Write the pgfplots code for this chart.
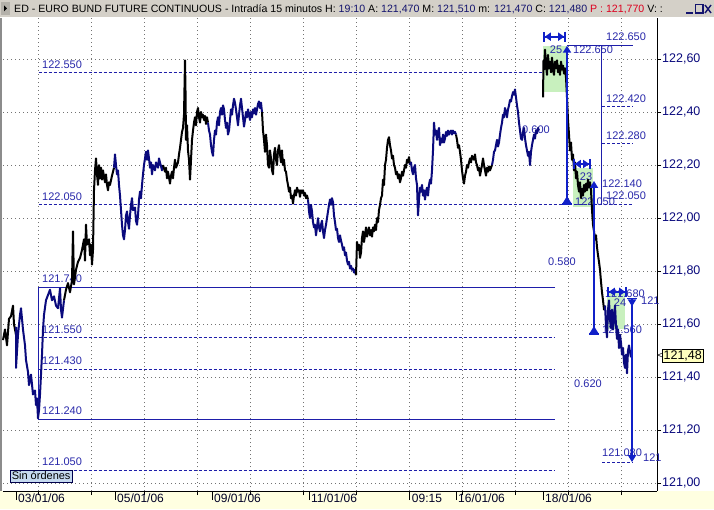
\documentclass[border=0pt]{standalone}
\usepackage{fontspec}
\setmainfont{Liberation Sans}
\usepackage{pgfplots}
\pgfplotsset{compat=1.18}
\usetikzlibrary{arrows.meta}

\definecolor{navyc}{RGB}{10,10,125}
\definecolor{lvl}{RGB}{30,30,170}
\definecolor{arr}{RGB}{16,32,200}
\definecolor{lbl}{RGB}{40,40,170}
\definecolor{grn}{RGB}{200,240,190}
\definecolor{paley}{RGB}{255,255,225}
\definecolor{barg}{RGB}{212,208,200}
\definecolor{boxb}{RGB}{198,218,240}
\definecolor{curr}{RGB}{255,255,190}
\definecolor{ttl}{RGB}{20,20,110}
\definecolor{redt}{RGB}{220,0,30}

\newcommand{\fs}[1]{\fontsize{#1}{#1}\selectfont}

\begin{document}
\begin{tikzpicture}
\useasboundingbox (0,0) rectangle (714pt,509pt);
\fill[white] (0,0) rectangle (714pt,509pt);
% bottom strip and left border
\fill[paley] (0,0) rectangle (714pt,18pt);
\fill[black!45] (0,18pt) rectangle (2pt,491pt);
% title bar
\fill[barg] (0,492pt) rectangle (714pt,509pt);
\fill[barg!85!black] (1pt,494pt) rectangle (10pt,507pt);
\fill[black] (4pt,497.5pt) -- (4pt,503.5pt) -- (7pt,500.5pt) -- cycle;
\node[anchor=west, inner sep=0pt, font=\fs{10.6}] at (14pt,500pt)
  {ED - EURO BUND FUTURE CONTINUOUS - Intrad\'{\i}a 15 minutos H: \textcolor{ttl}{19:10} A: \textcolor{ttl}{121,470} M: \textcolor{ttl}{121,510} m: \textcolor{ttl}{121,470} C: \textcolor{ttl}{121,480} \textcolor{redt}{P : 121,770} V: :};
\draw[line width=1.6pt, ttl] (686pt,496pt) -- (693pt,496pt);
\draw[line width=1.1pt, ttl] (695.5pt,496pt) rectangle (703pt,504.5pt);
\draw[line width=1.4pt, ttl] (705pt,496pt) -- (711pt,504pt) (705pt,504pt) -- (711pt,496pt);

\begin{axis}[
  at={(3pt,18pt)}, anchor=south west,
  scale only axis, width=654pt, height=473pt,
  xmin=3, xmax=657, ymin=120.971, ymax=122.7545,
  clip=false,
  axis x line*=bottom, axis y line*=right,
  axis line style={black,-, line width=0.8pt},
  tick align=outside,
  major tick length=4pt,
  tick style={black, line width=0.8pt},
  xtick={38.7,91.7,144.7,197.7,250.7,303.7,356.7,409.7,462.7,515.7,568.7,621.7},
  xticklabels={},
  extra x ticks={16,115,212,309,409.7,456,543},
  extra x tick labels={03/01/06,05/01/06,09/01/06,11/01/06,09:15,16/01/06,18/01/06},
  extra x tick style={grid=none, major tick length=9pt,
    xticklabel style={anchor=north west, inner sep=0pt, xshift=2pt, yshift=6pt, font=\fs{12}, text=black!85!blue}},
  ytick={121,121.2,121.4,121.6,121.8,122,122.2,122.4,122.6},
  yticklabels={{121,00},{121,20},{121,40},{121,60},{121,80},{122,00},{122,20},{122,40},{122,60}},
  yticklabel style={font=\fs{12.5}, text=navyc, inner sep=1pt},
  /pgf/number format/assume math mode=true,
  xmajorgrids, ymajorgrids,
  grid style={dash pattern=on 1pt off 3pt, black!55, line width=0.8pt},
]
% shaded consolidation boxes
\addplot[fill=grn, draw=none] coordinates {(543,122.475) (567,122.475) (567,122.65) (543,122.65)} -- cycle;
\addplot[fill=grn, draw=none] coordinates {(573,122.04) (593,122.04) (593,122.19) (573,122.19)} -- cycle;
\addplot[fill=grn, draw=none] coordinates {(607,121.58) (625,121.58) (625,121.72) (607,121.72)} -- cycle;

% level lines
\addplot[lvl, line width=0.9pt, dash pattern=on 3pt off 2pt] coordinates {(38.7,122.55) (543,122.55)};
\addplot[lvl, line width=0.9pt, dash pattern=on 3pt off 2pt] coordinates {(38.7,122.05) (633,122.05)};
\addplot[lvl, line width=0.9pt, dash pattern=on 3pt off 2pt] coordinates {(38.7,121.55) (555,121.55)};
\addplot[lvl, line width=0.9pt, dash pattern=on 3pt off 2pt] coordinates {(38.7,121.43) (555,121.43)};
\addplot[lvl, line width=0.9pt, dash pattern=on 3pt off 2pt] coordinates {(38.7,121.05) (555,121.05)};
\addplot[lvl, line width=1pt] coordinates {(555,121.74) (38.7,121.74) (38.7,121.24) (555,121.24)};
\addplot[lvl, line width=1pt] coordinates {(567,122.65) (633,122.65)};
\addplot[lvl, line width=1pt] coordinates {(601.7,122.65) (601.7,122.05)};
\addplot[lvl, line width=0.9pt, dash pattern=on 3pt off 2pt] coordinates {(602,122.42) (633,122.42)};
\addplot[lvl, line width=0.9pt, dash pattern=on 3pt off 2pt] coordinates {(602,122.28) (633,122.28)};
\addplot[lvl, line width=0.9pt, dash pattern=on 3pt off 2pt] coordinates {(602,121.08) (633,121.08)};

% level labels
\begin{scope}[every node/.style={inner sep=0pt, font=\fs{11}, text=lbl}]
\node[anchor=west] at (axis cs:42,122.577) {122.550};
\node[anchor=west] at (axis cs:42,122.08) {122.050};
\node[anchor=west] at (axis cs:42,121.77) {121.740};
\node[anchor=west] at (axis cs:42,121.581) {121.550};
\node[anchor=west] at (axis cs:42,121.461) {121.430};
\node[anchor=west] at (axis cs:42,121.273) {121.240};
\node[anchor=west] at (axis cs:42,121.08) {121.050};
\node[anchor=west] at (axis cs:606,122.683) {122.650};
\node at (axis cs:556,122.635) {25};
\node[anchor=west] at (axis cs:573,122.635) {122.650};
\node at (axis cs:536,122.332) {0.600};
\node[anchor=west] at (axis cs:606,122.452) {122.420};
\node[anchor=west] at (axis cs:606,122.309) {122.280};
\node at (axis cs:586,122.155) {23};
\node[anchor=west] at (axis cs:602,122.128) {122.140};
\node[anchor=west] at (axis cs:606,122.085) {122.050};
\node[anchor=west] at (axis cs:575,122.060) {122.050};
\node at (axis cs:562,121.834) {0.580};
\node[anchor=west] at (axis cs:602,121.581) {121.560};
\node at (axis cs:620,121.68) {24};
\node[anchor=east] at (axis cs:645,121.716) {121.680};
\node[anchor=west] at (axis cs:641,121.687) {121};
\node at (axis cs:588,121.375) {0.620};
\node[anchor=west] at (axis cs:602,121.115) {121.080};
\node[anchor=west] at (axis cs:643,121.096) {121};
\end{scope}

% price series, 15 minute bars
\addplot[black, line width=2pt, line join=round] coordinates {(3,121.54) (5,121.58) (7,121.52) (9,121.62) (11,121.63) (13,121.67) (14,121.60) (16,121.56)};
\addplot[navyc, line width=2pt, line join=round] coordinates {(16,121.59) (16,121.435) (18,121.56) (20,121.635) (21,121.66) (23,121.58) (25,121.52) (26,121.465) (28,121.42) (29,121.37) (31,121.41) (33,121.335) (35,121.35) (36,121.295) (37,121.32) (38,121.245) (39,121.275) (40,121.335) (41,121.41) (42,121.485) (43,121.58) (44,121.635) (46,121.69) (48,121.71) (50,121.73) (52,121.69) (54,121.705) (56,121.67) (58,121.66) (60,121.735) (61,121.655) (62,121.625) (64,121.69)};
\addplot[black, line width=2pt, line join=round] coordinates {(64,121.69) (66,121.73) (68,121.755) (70,121.72) (72,121.765) (73,121.95) (74,121.75) (76,121.805) (78,121.835) (80,121.85) (82,121.88) (84,121.92) (85,121.84) (86,121.975) (87,121.90) (89,121.92) (90,121.86) (91,121.90) (92,121.825) (93,121.88) (94,122.105) (95,122.18) (96,122.225) (97,122.165) (98,122.125) (99,122.20) (100,122.15) (101,122.19) (102,122.145) (103,122.18) (105,122.135) (106,122.165) (107,122.125) (108,122.105) (109,122.135) (110,122.125) (112,122.16) (114,122.19)};
\addplot[navyc, line width=2pt, line join=round] coordinates {(114,122.19) (115,122.24) (116,122.20) (117,122.165) (118,122.18) (119,122.125) (120,122.085) (121,122.03) (122,121.975) (123,121.935) (124,121.92) (125,121.955) (126,122.01) (127,122.025) (128,121.985) (129,121.96) (130,122.01) (131,122.05) (132,122.075) (133,122.03) (135,122.04) (136,121.99) (137,121.975) (138,122.01) (139,122.07) (140,122.10) (141,122.075) (142,122.125) (143,122.165) (144,122.20) (145,122.225) (146,122.25) (147,122.22) (148,122.255) (149,122.225) (150,122.19) (151,122.21) (152,122.165) (153,122.20) (155,122.18) (156,122.21) (158,122.19) (159,122.225) (160,122.21) (162,122.18) (163,122.20)};
\addplot[black, line width=2pt, line join=round] coordinates {(163,122.20) (165,122.175) (166,122.19) (167,122.15) (168,122.175) (170,122.13) (171,122.16) (172,122.175) (173,122.15) (174,122.19) (175,122.22) (176,122.19) (178,122.21) (179,122.24) (180,122.265) (181,122.295) (182,122.325) (183,122.34) (184,122.39) (185,122.595) (185.5,122.48) (186,122.295) (187,122.35) (188,122.255) (189,122.22) (190,122.145) (191,122.22) (192,122.295) (193,122.33) (194,122.36) (195,122.38) (196,122.35) (197,122.40) (198,122.415) (199,122.38) (200,122.36) (201,122.40) (202,122.38) (203,122.39) (204,122.37) (205,122.385) (206,122.355) (207,122.38) (208,122.36)};
\addplot[navyc, line width=2pt, line join=round] coordinates {(208,122.36) (209,122.33) (210,122.315) (211,122.275) (212,122.25) (213,122.235) (214,122.295) (215,122.33) (216,122.315) (217,122.36) (218,122.38) (219,122.35) (220,122.40) (221,122.415) (222,122.39) (223,122.425) (224,122.41) (225,122.37) (226,122.34) (227,122.36) (228,122.315) (229,122.33) (230,122.37) (231,122.41) (232,122.39) (233,122.425) (234,122.45) (235,122.435) (236,122.41) (237,122.38) (238,122.35) (239,122.39) (240,122.425) (241,122.45) (242,122.415) (243,122.38) (244,122.345) (245,122.37) (246,122.40) (247,122.38) (248,122.41) (249,122.39) (250,122.37) (251,122.40) (252,122.38) (253,122.41) (254,122.395) (255,122.415) (256,122.39) (257,122.41) (258,122.43) (259,122.44) (260,122.415) (261,122.435) (262,122.40)};
\addplot[black, line width=2pt, line join=round] coordinates {(262,122.40) (263,122.33) (264,122.295) (265,122.25) (266,122.315) (267,122.275) (268,122.20) (269,122.19) (270,122.255) (271,122.225) (272,122.18) (273,122.165) (274,122.24) (275,122.265) (276,122.22) (277,122.20) (278,122.255) (279,122.275) (280,122.24) (281,122.21) (282,122.255) (283,122.20) (284,122.22) (285,122.18) (286,122.175) (287,122.145) (288,122.125) (289,122.10) (290,122.115) (291,122.075) (292,122.085) (293,122.055) (294,122.085) (295,122.105) (296,122.085) (297,122.115) (298,122.10) (299,122.105) (300,122.08) (301,122.105) (302,122.095) (303,122.105) (304,122.085) (305,122.095) (306,122.075) (307,122.085) (308,122.07)};
\addplot[navyc, line width=2pt, line join=round] coordinates {(308,122.07) (309,122.025) (310,122.00) (311,122.05) (312,122.025) (313,121.985) (314,121.965) (315,121.975) (316,121.935) (317,121.965) (318,122.00) (319,121.965) (320,121.95) (321,121.975) (322,121.99) (323,121.95) (324,121.925) (325,121.955) (326,121.975) (327,122.00) (328,122.025) (329,122.05) (330,122.07) (331,122.05) (332,122.075) (333,122.06) (334,122.01) (335,121.985) (336,121.955) (337,121.96) (338,121.925) (339,121.91) (340,121.935) (341,121.915) (342,121.90) (343,121.88) (344,121.89) (345,121.86) (346,121.87) (347,121.84) (348,121.825) (349,121.835) (350,121.81) (351,121.82) (352,121.805) (353,121.81) (354,121.795) (355,121.805) (356,121.785)};
\addplot[black, line width=2pt, line join=round] coordinates {(356,121.785) (357,121.91) (358,121.88) (359,121.90) (360,121.85) (361,121.87) (362,121.925) (363,121.95) (364,121.91) (365,121.935) (366,121.965) (367,121.93) (368,121.95) (369,121.965) (370,121.935) (371,121.955) (372,121.93) (373,121.965) (374,121.95) (375,121.975) (376,121.955) (377,122.00) (378,121.985) (379,122.03) (380,122.05) (381,122.075) (382,122.085) (383,122.145) (384,122.125) (385,122.20) (386,122.22) (387,122.265) (388,122.295) (389,122.305) (390,122.275) (391,122.255) (392,122.225) (393,122.235) (394,122.20) (395,122.19) (396,122.165) (397,122.175) (398,122.15) (399,122.165) (400,122.135) (401,122.15) (402,122.175) (403,122.16) (404,122.18) (405,122.20) (406,122.19) (407,122.22) (408,122.21) (409,122.23) (410,122.20)};
\addplot[navyc, line width=2pt, line join=round] coordinates {(410,122.20) (411,122.21) (412,122.18) (413,122.165) (414,122.19) (415,122.20) (416,122.15) (417,122.125) (418,122.01) (419,122.07) (420,122.115) (421,122.10) (422,122.125) (423,122.085) (424,122.105) (425,122.07) (426,122.10) (427,122.115) (428,122.085) (429,122.125) (430,122.145) (431,122.13) (432,122.18) (433,122.255) (434,122.36) (435,122.315) (436,122.33) (437,122.295) (438,122.325) (439,122.34) (440,122.275) (441,122.30) (442,122.285) (443,122.315) (444,122.285) (445,122.30) (446,122.325) (447,122.31) (448,122.33) (449,122.315) (450,122.325) (451,122.33) (452,122.315) (453,122.33) (454,122.32) (455,122.325) (456,122.315)};
\addplot[black, line width=2pt, line join=round] coordinates {(456,122.315) (457,122.295) (458,122.265) (459,122.275) (460,122.25) (461,122.22) (462,122.18) (463,122.15) (464,122.13) (465,122.16) (466,122.175) (467,122.20) (468,122.19) (469,122.21) (470,122.225) (471,122.21) (472,122.235) (473,122.225) (474,122.22) (475,122.24) (476,122.21) (477,122.20) (478,122.18) (479,122.19) (480,122.16) (481,122.18) (482,122.20) (483,122.225) (484,122.20) (485,122.18) (486,122.16) (487,122.19) (488,122.175) (489,122.195) (490,122.18) (491,122.19) (492,122.20)};
\addplot[navyc, line width=2pt, line join=round] coordinates {(492,122.20) (493,122.22) (494,122.25) (495,122.255) (496,122.275) (497,122.295) (498,122.27) (499,122.285) (500,122.315) (501,122.34) (502,122.36) (503,122.39) (504,122.38) (505,122.415) (506,122.40) (507,122.38) (508,122.41) (509,122.425) (510,122.445) (511,122.44) (512,122.46) (513,122.475) (514,122.465) (515,122.485) (516,122.455) (517,122.425) (518,122.40) (519,122.36) (520,122.33) (521,122.30) (522,122.295) (523,122.325) (524,122.34) (525,122.30) (526,122.275) (527,122.255) (528,122.235) (529,122.25) (530,122.20) (531,122.25) (532,122.275) (533,122.295) (534,122.315) (535,122.30) (536,122.33) (537,122.32) (538,122.34) (539,122.33)};
\addplot[black, line width=2pt, line join=round] coordinates {(543,122.455) (543.5,122.595) (544,122.56) (545,122.635) (546,122.575) (547,122.54) (548,122.615) (549,122.565) (550,122.59) (551,122.55) (552,122.605) (553,122.56) (554,122.54) (555,122.59) (556,122.565) (557,122.595) (558,122.55) (559,122.575) (560,122.54) (561,122.59) (562,122.56) (563,122.575) (564,122.545) (565,122.565) (566,122.53) (567,122.455) (568,122.37) (569,122.315) (570,122.255) (571,122.285) (572,122.22) (573,122.24) (574,122.18) (575,122.21) (576,122.15) (577,122.175) (578,122.125) (579,122.10) (580,122.135) (581,122.075) (582,122.11) (583,122.085) (584,122.125) (585,122.10) (586,122.13) (587,122.105) (588,122.145) (589,122.115) (590,122.135) (591,122.105) (592,122.03) (593,121.975) (594,121.95) (595,121.92) (596,121.935) (597,121.89) (598,121.86) (599,121.835) (600,121.805) (601,121.76) (602,121.72) (603,121.69) (604,121.655) (605,121.67)};
\addplot[navyc, line width=2pt, line join=round] coordinates {(605,121.67) (606,121.595) (607,121.55) (608,121.655) (609,121.69) (610,121.615) (611,121.585) (612,121.655) (613,121.58) (614,121.625) (615,121.67) (616,121.595) (617,121.545) (618,121.58) (619,121.51) (620,121.56) (621,121.53) (622,121.485) (623,121.51) (624,121.455) (625,121.435) (626,121.485) (627,121.415) (628,121.50) (629,121.52) (630,121.495) (631,121.475)};

% measuring arrows
\addplot[arr, line width=2.4pt, {Bar[width=10pt,line width=1.8pt]Triangle[reversed,width=8pt,length=7pt]}-{Triangle[width=8pt,length=7pt]}] coordinates {(567,122.05) (567,122.65)};
\addplot[arr, line width=2.4pt, {Bar[width=10pt,line width=1.8pt]Triangle[reversed,width=8pt,length=7pt]}-{Triangle[width=8pt,length=7pt]}] coordinates {(594,121.56) (594,122.14)};
\addplot[arr, line width=2.4pt, {Bar[width=10pt,line width=1.8pt]Triangle[reversed,width=8pt,length=7pt]}-{Triangle[width=8pt,length=7pt]}] coordinates {(632,121.70) (632,121.08)};
\addplot[arr, line width=2.2pt, {Bar[width=10pt,line width=1.8pt]Triangle[width=8pt,length=6pt]}-{Triangle[width=8pt,length=6pt]Bar[width=10pt,line width=1.8pt]}] coordinates {(543,122.684) (566,122.684)};
\addplot[arr, line width=2.2pt, {Bar[width=10pt,line width=1.8pt]Triangle[width=8pt,length=6pt]}-{Triangle[width=8pt,length=6pt]Bar[width=10pt,line width=1.8pt]}] coordinates {(573,122.204) (591,122.204)};
\addplot[arr, line width=2.2pt, {Bar[width=10pt,line width=1.8pt]Triangle[width=8pt,length=6pt]}-{Triangle[width=8pt,length=6pt]Bar[width=10pt,line width=1.8pt]}] coordinates {(607,121.722) (627,121.722)};

% last price marker
\node[anchor=west, inner sep=0pt, font=\fs{9}] at (axis cs:657.5,121.48) {<};
\node[anchor=west, fill=curr, draw=black, line width=0.8pt, inner sep=1.2pt, font=\fs{12.5}] at (axis cs:662,121.48) {121,48};
\end{axis}

\node[anchor=west, draw=black!70!blue, fill=boxb, inner sep=1.6pt, font=\fs{11}] at (10pt,33pt) {Sin órdenes};
\end{tikzpicture}
\end{document}
